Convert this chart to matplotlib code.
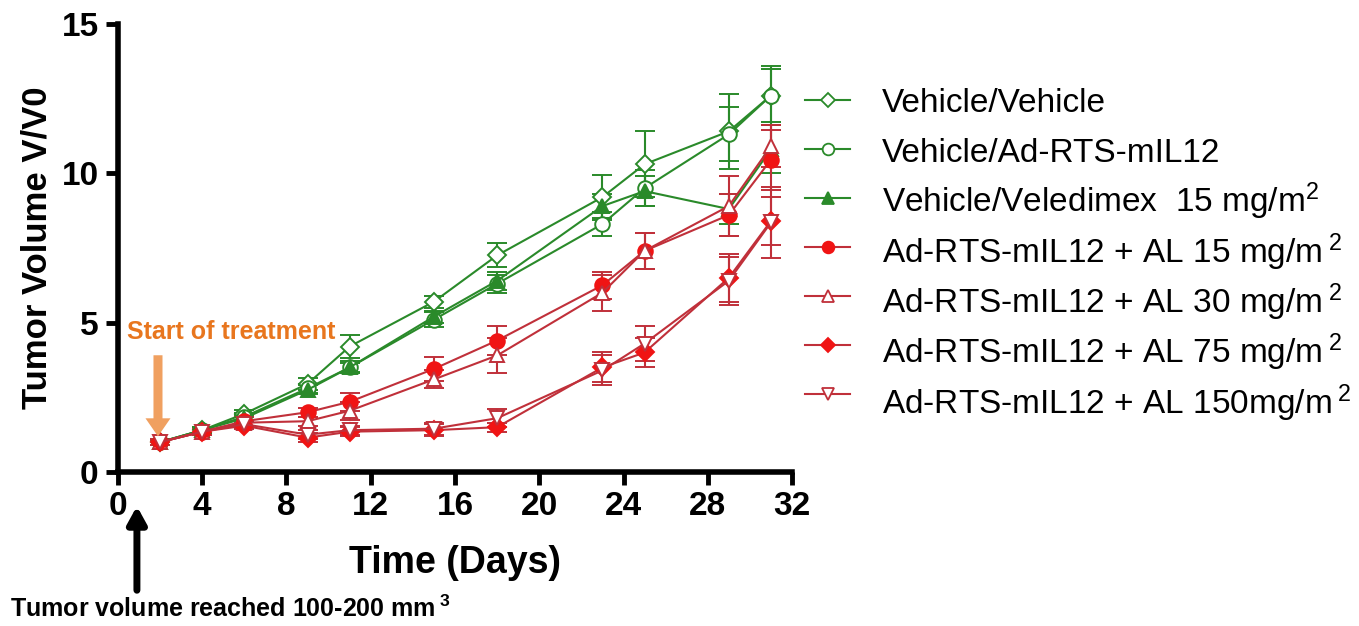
import numpy as np
import matplotlib; matplotlib.use("Agg")
import matplotlib.pyplot as plt
from matplotlib.lines import Line2D

plt.rcParams.update({"font.family": ["Liberation Sans", "DejaVu Sans"],
                     "mathtext.fontset": "custom", "mathtext.default": "regular",
                     "mathtext.rm": "Liberation Sans", "mathtext.bf": "Liberation Sans:bold"})

GREEN = "#2A8A2A"; RED_LINE = "#C0303A"; RED = "#F01414"; ORANGE = "#E8761E"

days = [2, 4, 6, 9, 11, 15, 18, 23, 25, 29, 31]

veh_veh     = [1.0, 1.40, 1.95, 2.95, 4.20, 5.70, 7.25, 9.20, 10.30, 11.40, 12.60]
veh_veh_err = [0.08, 0.10, 0.12, 0.20, 0.40, 0.20, 0.40, 0.75, 1.10, 1.25, 1.00]
veh_ad      = [1.0, 1.40, 1.85, 2.80, 3.50, 5.10, 6.30, 8.30, 9.50, 11.30, 12.60]
veh_ad_err  = [0.08, 0.10, 0.12, 0.15, 0.20, 0.25, 0.30, 0.40, 0.60, 0.90, 0.90]
veh_vel     = [1.0, 1.40, 1.80, 2.75, 3.50, 5.20, 6.40, 8.90, 9.40, 8.80, 10.80]
veh_vel_err = [0.08, 0.10, 0.12, 0.15, 0.15, 0.20, 0.30, 0.40, 0.50, 0.50, 0.80]
al15        = [1.0, 1.35, 1.70, 2.00, 2.35, 3.45, 4.40, 6.25, 7.40, 8.60, 10.45]
al15_err    = [0.10, 0.10, 0.15, 0.15, 0.30, 0.40, 0.50, 0.45, 0.60, 0.70, 1.00]
al30        = [1.0, 1.35, 1.65, 1.70, 2.05, 3.10, 3.90, 6.00, 7.40, 8.90, 10.90]
al30_err    = [0.10, 0.10, 0.10, 0.15, 0.30, 0.30, 0.60, 0.60, 0.60, 1.00, 0.70]
al75        = [1.0, 1.35, 1.55, 1.15, 1.35, 1.40, 1.50, 3.50, 4.00, 6.50, 8.40]
al75_err    = [0.08, 0.10, 0.12, 0.15, 0.15, 0.20, 0.15, 0.50, 0.50, 0.80, 0.80]
al150       = [1.0, 1.35, 1.60, 1.25, 1.40, 1.45, 1.80, 3.40, 4.30, 6.40, 8.35]
al150_err   = [0.08, 0.10, 0.12, 0.15, 0.15, 0.20, 0.30, 0.50, 0.60, 0.80, 1.20]

series = [
    ("Vehicle/Vehicle", veh_veh, veh_veh_err, GREEN, "D", "white"),
    ("Vehicle/Ad-RTS-mIL12", veh_ad, veh_ad_err, GREEN, "o", "white"),
    ("Vehicle/Veledimex  15 mg/m$^{2}$", veh_vel, veh_vel_err, GREEN, "^", GREEN),
    ("Ad-RTS-mIL12 + AL 15 mg/m$\\,^{2}$", al15, al15_err, RED_LINE, "o", RED),
    ("Ad-RTS-mIL12 + AL 30 mg/m$\\,^{2}$", al30, al30_err, RED_LINE, "^", "white"),
    ("Ad-RTS-mIL12 + AL 75 mg/m$\\,^{2}$", al75, al75_err, RED_LINE, "D", RED),
    ("Ad-RTS-mIL12 + AL 150mg/m$\\,^{2}$", al150, al150_err, RED_LINE, "v", "white"),
]

W, H = 1359, 626
fig = plt.figure(figsize=(W / 100, H / 100), dpi=100)
ax = fig.add_axes([0.0868, 0.246, 0.496, 0.716])

for i, (lab, y, e, c, m, fc) in enumerate(series):
    ec = RED if fc == RED else c
    ms = 9 if m == "D" else 10.5
    ax.errorbar(days, y, yerr=e, color=c, lw=1.5, marker=m, ms=ms, mfc=fc, mec=ec,
                mew=1.4, capsize=7, capthick=1.5, elinewidth=1.5)
    # legend row, placed by hand so the superscripts don't skew the spacing
    ym = 1 - (100 + 49 * i) / H
    fig.add_artist(Line2D([805 / W, 850 / W], [ym, ym], color=c, lw=1.5))
    fig.add_artist(Line2D([828 / W], [ym], color=c, marker=m, ms=ms * 0.8, mfc=fc, mec=ec,
                          mew=1.3))
    fig.text(882 / W, 1 - (112 + 50.3 * i) / H, lab, fontsize=24, va="baseline")

ax.set_xlim(0, 32); ax.set_ylim(0, 15)
ax.set_xticks(range(0, 33, 4)); ax.set_yticks([0, 5, 10, 15])
for s in ["top", "right"]:
    ax.spines[s].set_visible(False)
for s in ["left", "bottom"]:
    ax.spines[s].set_linewidth(4)
ax.tick_params(width=3.5, length=9, labelsize=24, pad=5)
for t in ax.get_xticklabels() + ax.get_yticklabels():
    t.set_fontweight("bold")
ax.set_xlabel("Time (Days)", fontsize=27, fontweight="bold", labelpad=16)
ax.set_ylabel("Tumor Volume V/V0", fontsize=25, fontweight="bold", labelpad=6)

# start of treatment
ax.text(0.45, 4.45, "Start of treatment", color=ORANGE, fontsize=18, fontweight="bold")
ax.annotate("", xy=(1.9, 1.1), xytext=(1.9, 4.0),
            arrowprops=dict(arrowstyle="simple,head_width=1.8,head_length=1.3,tail_width=0.65",
                            color="#F0A060", lw=0))

# tumour volume reached
ax.annotate("", xy=(0.9, -1.05), xytext=(0.9, -4.05), annotation_clip=False,
            arrowprops=dict(arrowstyle="-|>,head_width=0.55,head_length=1.0", color="black", lw=5))
fig.text(0.007, 0.015, "Tumor volume reached 100-200 mm$\\,^{\\mathbf{3}}$", fontsize=18,
         fontweight="bold")

fig.savefig("out.png", dpi=100)
